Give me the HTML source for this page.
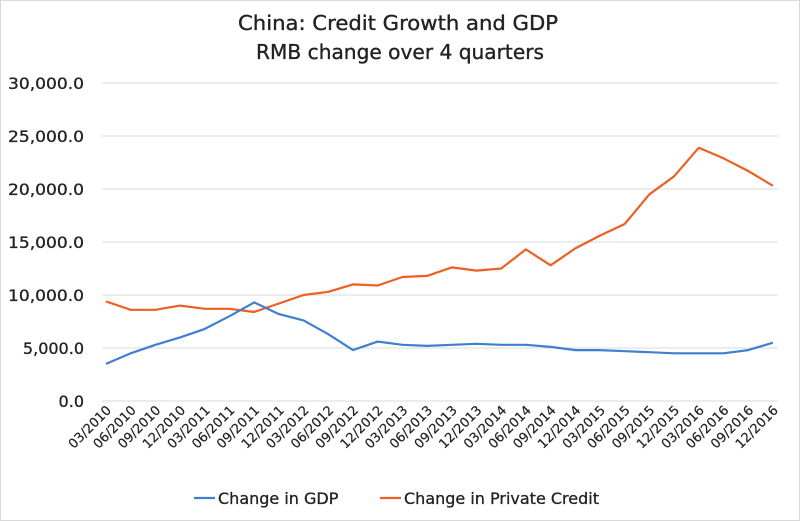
<!DOCTYPE html>
<html><head><style>body{margin:0;background:#fff}svg{display:block}</style></head><body>
<svg width="800" height="521" xmlns="http://www.w3.org/2000/svg" font-family="DejaVu Sans, Liberation Sans, sans-serif">
<rect x="0.5" y="0.5" width="799" height="520" fill="#fff" stroke="#d9d9d9"/>
<g stroke="#222" stroke-width="0.35">
<text x="398" y="30" text-anchor="middle" font-size="20" fill="#222" textLength="320" lengthAdjust="spacingAndGlyphs">China: Credit Growth and GDP</text>
<text x="400" y="59" text-anchor="middle" font-size="20" fill="#222" textLength="288" lengthAdjust="spacingAndGlyphs">RMB change over 4 quarters</text>
</g>
<g stroke="#d9d9d9" stroke-width="1">
<line x1="102" x2="778" y1="83" y2="83"/><line x1="102" x2="778" y1="136" y2="136"/><line x1="102" x2="778" y1="189" y2="189"/><line x1="102" x2="778" y1="242" y2="242"/><line x1="102" x2="778" y1="295" y2="295"/><line x1="102" x2="778" y1="348" y2="348"/><line x1="102" x2="778" y1="401" y2="401"/>
</g>
<g font-size="16" fill="#222" text-anchor="end" stroke="#222" stroke-width="0.3">
<text x="84" y="89" textLength="76" lengthAdjust="spacingAndGlyphs">30,000.0</text><text x="84" y="142" textLength="76" lengthAdjust="spacingAndGlyphs">25,000.0</text><text x="84" y="195" textLength="76" lengthAdjust="spacingAndGlyphs">20,000.0</text><text x="84" y="248" textLength="76" lengthAdjust="spacingAndGlyphs">15,000.0</text><text x="84" y="301" textLength="76" lengthAdjust="spacingAndGlyphs">10,000.0</text><text x="84" y="354">5,000.0</text><text x="84" y="407">0.0</text>
</g>
<polyline fill="none" stroke="#ed5f22" stroke-width="2.2" stroke-linejoin="round" points="106,301.4 130.7,309.8 155.4,309.8 180.1,305.6 204.8,308.8 229.5,308.8 254.2,312 278.9,303.5 303.6,295 328.3,291.8 353,284.4 377.7,285.5 402.4,277 427.1,275.9 451.8,267.4 476.5,270.6 501.2,268.5 525.9,249.4 550.6,265.3 575.3,248.4 600,235.6 624.7,224 649.4,194.3 674.1,176.3 698.8,147.7 723.5,158.3 748.2,171 772.9,185.8"/>
<polyline fill="none" stroke="#3f7fd0" stroke-width="2.2" stroke-linejoin="round" points="106,363.9 130.7,353.3 155.4,344.8 180.1,337.4 204.8,328.9 229.5,316.2 254.2,302.4 278.9,314.1 303.6,320.4 328.3,334.2 353,350.1 377.7,341.6 402.4,344.8 427.1,345.9 451.8,344.8 476.5,343.8 501.2,344.8 525.9,344.8 550.6,346.9 575.3,350.1 600,350.1 624.7,351.2 649.4,352.2 674.1,353.3 698.8,353.3 723.5,353.3 748.2,350.1 772.9,342.7"/>
<g font-size="13" fill="#222" text-anchor="end" stroke="#222" stroke-width="0.2">
<text transform="translate(112,411) rotate(-45)">03/2010</text>
<text transform="translate(136.7,411) rotate(-45)">06/2010</text>
<text transform="translate(161.4,411) rotate(-45)">09/2010</text>
<text transform="translate(186.1,411) rotate(-45)">12/2010</text>
<text transform="translate(210.8,411) rotate(-45)">03/2011</text>
<text transform="translate(235.5,411) rotate(-45)">06/2011</text>
<text transform="translate(260.2,411) rotate(-45)">09/2011</text>
<text transform="translate(284.9,411) rotate(-45)">12/2011</text>
<text transform="translate(309.6,411) rotate(-45)">03/2012</text>
<text transform="translate(334.3,411) rotate(-45)">06/2012</text>
<text transform="translate(359,411) rotate(-45)">09/2012</text>
<text transform="translate(383.7,411) rotate(-45)">12/2012</text>
<text transform="translate(408.4,411) rotate(-45)">03/2013</text>
<text transform="translate(433.1,411) rotate(-45)">06/2013</text>
<text transform="translate(457.8,411) rotate(-45)">09/2013</text>
<text transform="translate(482.5,411) rotate(-45)">12/2013</text>
<text transform="translate(507.2,411) rotate(-45)">03/2014</text>
<text transform="translate(531.9,411) rotate(-45)">06/2014</text>
<text transform="translate(556.6,411) rotate(-45)">09/2014</text>
<text transform="translate(581.3,411) rotate(-45)">12/2014</text>
<text transform="translate(606,411) rotate(-45)">03/2015</text>
<text transform="translate(630.7,411) rotate(-45)">06/2015</text>
<text transform="translate(655.4,411) rotate(-45)">09/2015</text>
<text transform="translate(680.1,411) rotate(-45)">12/2015</text>
<text transform="translate(704.8,411) rotate(-45)">03/2016</text>
<text transform="translate(729.5,411) rotate(-45)">06/2016</text>
<text transform="translate(754.2,411) rotate(-45)">09/2016</text>
<text transform="translate(778.9,411) rotate(-45)">12/2016</text>
</g>
<line x1="194" x2="215" y1="498" y2="498" stroke="#3f7fd0" stroke-width="2.2"/>
<line x1="380" x2="401" y1="498" y2="498" stroke="#ed5f22" stroke-width="2.2"/>
<g font-size="16" fill="#222" stroke="#222" stroke-width="0.3">
<text x="218" y="504">Change in GDP</text>
<text x="404" y="504">Change in Private Credit</text>
</g>
</svg>
</body></html>
